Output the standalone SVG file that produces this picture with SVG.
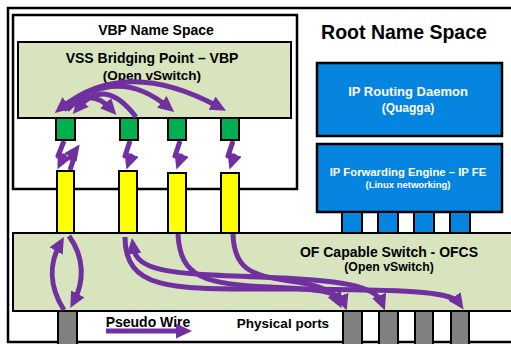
<svg xmlns="http://www.w3.org/2000/svg" width="511" height="344" viewBox="0 0 511 344">
<style>
.frame{fill:#ffffff;stroke:#000;stroke-width:2.5}
.gbox{fill:#d7e4bd;stroke:#000;stroke-width:2}
.bbox{fill:#0584e0;stroke:#000;stroke-width:2.5}
.gport{fill:#00b050;stroke:#000;stroke-width:2}
.yport{fill:#ffff00;stroke:#000;stroke-width:2}
.pport{fill:#808080;stroke:#000;stroke-width:2}
.bport{fill:#0584e0;stroke:#000;stroke-width:2}
.t{font-family:"Liberation Sans",Arial,sans-serif;font-weight:bold;fill:#000;text-anchor:middle}
.w{fill:#ffffff}
.pw{fill:none;stroke:#7030a0;stroke-width:5;stroke-linejoin:round}
</style>
<defs>
<marker id="ah" markerUnits="userSpaceOnUse" markerWidth="16" markerHeight="15" viewBox="0 0 16 15" refX="8" refY="7.5" orient="auto-start-reverse">
<path d="M0,0 L16,7.5 L0,15 z" fill="#7030a0"/>
</marker>
</defs>
<rect width="511" height="344" fill="#fff"/>
<g id="root-ns">
<rect class="frame" x="8" y="8" width="520" height="334"/>
<text class="t" x="404" y="39" font-size="19.5">Root Name Space</text>
</g>
<g id="vbp-ns">
<rect class="frame" x="13" y="15" width="284" height="174"/>
<text class="t" x="156" y="35" font-size="14">VBP Name Space</text>
</g>
<g id="vbp">
<rect class="gbox" x="18" y="42" width="273" height="76"/>
<text class="t" x="152" y="63" font-size="14">VSS Bridging Point – VBP</text>
<text class="t" x="152" y="80" font-size="13.5">(Open vSwitch)</text>
</g>
<g id="ip-routing">
<rect class="bbox" x="317" y="63" width="185" height="73"/>
<text class="t w" x="408" y="96" font-size="13">IP Routing Daemon</text>
<text class="t w" x="408" y="112" font-size="12">(Quagga)</text>
</g>
<g id="ip-fe">
<rect class="bbox" x="317" y="144" width="185" height="68"/>
<text class="t w" x="408" y="176" font-size="11.3">IP Forwarding Engine – IP FE</text>
<text class="t w" x="408" y="188" font-size="9.5">(Linux networking)</text>
</g>
<g id="ofcs">
<rect class="gbox" x="13" y="233" width="520" height="78"/>
<text class="t" x="389" y="257" font-size="14">OF Capable Switch - OFCS</text>
<text class="t" x="389" y="271" font-size="12.3">(Open vSwitch)</text>
</g>
<g id="fe-ports">
<rect class="bport" x="342" y="212" width="20" height="21"/>
<rect class="bport" x="378" y="212" width="20" height="21"/>
<rect class="bport" x="414" y="212" width="20" height="21"/>
<rect class="bport" x="450" y="212" width="20" height="21"/>
</g>
<g id="vbp-ports">
<rect class="gport" x="56" y="118" width="19" height="22"/>
<rect class="gport" x="120" y="118" width="18" height="22"/>
<rect class="gport" x="168" y="118" width="18" height="22"/>
<rect class="gport" x="221" y="118" width="18" height="22"/>
</g>
<g id="ofcs-ports">
<rect class="yport" x="57" y="171" width="17" height="62"/>
<rect class="yport" x="119" y="171" width="18" height="62"/>
<rect class="yport" x="168" y="173" width="18" height="60"/>
<rect class="yport" x="221" y="173" width="18" height="60"/>
</g>
<g id="physical-ports">
<rect class="pport" x="58" y="311" width="19" height="36"/>
<rect class="pport" x="343" y="311" width="19" height="36"/>
<rect class="pport" x="379" y="311" width="19" height="36"/>
<rect class="pport" x="415" y="311" width="18" height="36"/>
<rect class="pport" x="451" y="311" width="18" height="36"/>
</g>
<g id="legend">
<text class="t" x="148" y="327" font-size="14">Pseudo Wire</text>
<text class="t" x="283" y="328" font-size="13.5">Physical ports</text>
</g>
<g id="connectors" class="pw">
<path class="pw" d="M61,108 Q125,56 219,107" marker-start="url(#ah)" marker-end="url(#ah)"/>
<path class="pw" d="M64,110 Q116,64 168,107" marker-end="url(#ah)"/>
<path class="pw" d="M67,110 Q90,86 111,109" marker-end="url(#ah)"/>
<path class="pw" d="M136,117 Q105,76 78,108" marker-end="url(#ah)"/>
<path class="pw" d="M64,141 L58,156 L64,156 L61,162" marker-end="url(#ah)"/>
<path class="pw" d="M70,170 L74,158 L70,158 L75,151" marker-end="url(#ah)"/>
<path class="pw" d="M130,141 L125,156 L131,156 L129,162" marker-end="url(#ah)"/>
<path class="pw" d="M180,141 L175,156 L181,156 L179,162" marker-end="url(#ah)"/>
<path class="pw" d="M233,141 L228,156 L234,156 L232,162" marker-end="url(#ah)"/>
<path class="pw" d="M64,310 C48,285 50,262 60,244" marker-end="url(#ah)"/>
<path class="pw" d="M69,236 C85,258 84,282 74,301" marker-end="url(#ah)"/>
<path class="pw" d="M125,237 C125,292 175,289 280,289 C400,290 450,290 459,303" marker-end="url(#ah)"/>
<path class="pw" d="M133,246 C136,272 170,274 260,277 C340,280 375,285 382,303" marker-start="url(#ah)" marker-end="url(#ah)"/>
<path class="pw" d="M178,234 C180,278 205,284 270,287 C320,289 340,292 344,303" marker-end="url(#ah)"/>
<path class="pw" d="M233,234 C234,268 250,276 290,281 C320,285 333,291 338,301" marker-end="url(#ah)"/>
<path class="pw" d="M106,331 L184,331" marker-end="url(#ah)"/>
</g>
</svg>
